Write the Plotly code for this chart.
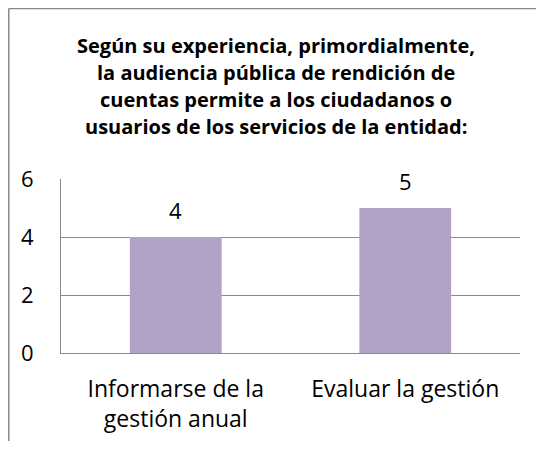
"""Bar chart: audiencia pública de rendición de cuentas."""
import plotly.graph_objects as go

categorias = ["Informarse de la<br>gestión anual", "Evaluar la gestión"]
valores = [4, 5]
ticks_y = [0, 2, 4, 6]
titulo = [
    "Según su experiencia, primordialmente,",
    "la audiencia pública de rendición de",
    "cuentas permite a los ciudadanos o",
    "usuarios de los servicios de la entidad:",
]

FONT = "Open Sans"
GRID = "#8a8a8a"

fig = go.Figure(
    go.Bar(
        x=categorias,
        y=valores,
        width=0.4,
        marker=dict(color="#B1A2C7", line=dict(width=0)),
        hoverinfo="x+y",
    )
)

# data labels sit well above each bar
for cat, val in zip(categorias, valores):
    fig.add_annotation(
        x=cat, y=val, text=str(val), showarrow=False,
        yshift=27, yanchor="middle",
        font=dict(family=FONT, size=22, color="black"),
    )

# title, one annotation per line for Excel-like spacing
for i, linea in enumerate(titulo):
    fig.add_annotation(
        xref="paper", yref="paper", x=0.468, y=1.770 - i * 0.157,
        xanchor="center", yanchor="middle",
        text="<b>" + linea + "</b>", showarrow=False,
        font=dict(family=FONT, size=20, color="black"),
    )

# frame around the chart (top and left edges visible)
fig.add_shape(type="line", xref="paper", yref="paper",
              x0=-0.1138, x1=1.1, y0=1.980, y1=1.980,
              line=dict(color="#888888", width=1.5))
fig.add_shape(type="line", xref="paper", yref="paper",
              x0=-0.1138, x1=-0.1138, y0=1.980, y1=-0.6,
              line=dict(color="#888888", width=1.5))

fig.update_yaxes(
    range=[0, 6],
    tickvals=ticks_y,
    showgrid=True, gridcolor=GRID, gridwidth=1,
    showline=True, linecolor=GRID, linewidth=1,
    zeroline=False,
    automargin=False,
    ticklabelstandoff=22,
    tickfont=dict(family=FONT, size=22, color="black"),
)
fig.update_xaxes(
    showline=True, linecolor=GRID, linewidth=1,
    automargin=False,
    tickfont=dict(family=FONT, size=23, color="black"),
    ticklabelstandoff=15,
)
# page body adds 8px around the figure, so the figure is 16px smaller
fig.update_layout(
    width=528, height=433,
    margin=dict(l=53, r=16, t=171, b=88),
    plot_bgcolor="white", paper_bgcolor="white",
    showlegend=False,
    font=dict(family=FONT),
)

fig.write_html("out.html")
